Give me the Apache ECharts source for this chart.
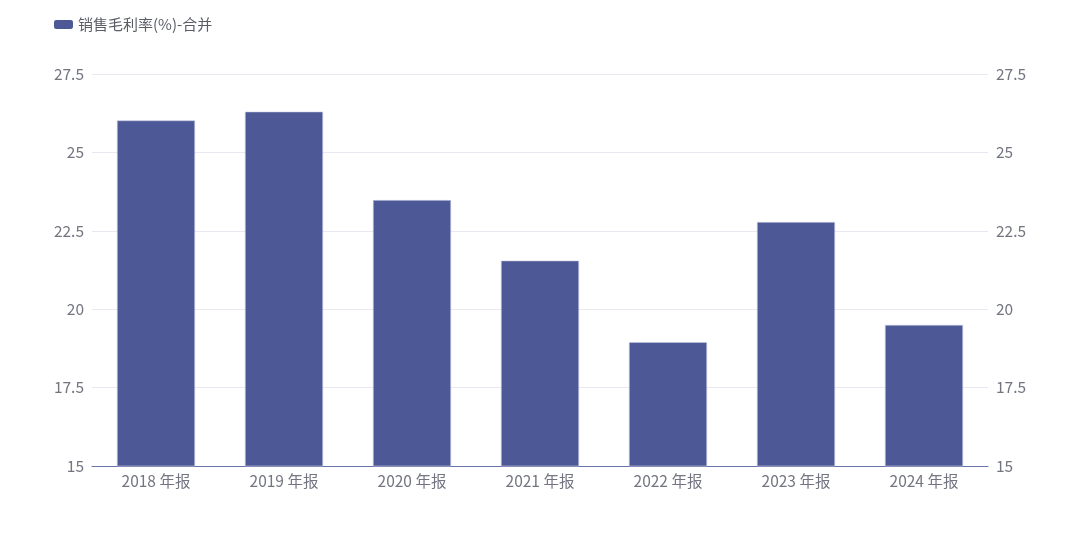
<!DOCTYPE html>
<html><head><meta charset="utf-8">
<script src="https://cdn.jsdelivr.net/npm/echarts@6/dist/echarts.min.js"></script>
<style>html,body{margin:0;padding:0;background:#fff}#c{width:1080px;height:534px}</style>
</head><body><div id="c"></div>
<script>
const categories = ['2018 年报','2019 年报','2020 年报','2021 年报','2022 年报','2023 年报','2024 年报'];
const seriesName = '销售毛利率(%)-合并';
const values = [26.02, 26.30, 23.48, 21.55, 18.95, 22.78, 19.50];
const yTicks = {min: 15, max: 27.5, interval: 2.5};

const chart = echarts.init(document.getElementById('c'));
const font = "'Noto Sans CJK SC', 'Noto Sans', sans-serif";
const yAxisBase = {
  type: 'value', min: yTicks.min, max: yTicks.max, interval: yTicks.interval,
  axisLine: {show: false}, axisTick: {show: false},
  axisLabel: {color: '#737580', fontSize: 15.5, fontFamily: font, margin: 8},
};
chart.setOption({
  animation: false,
  legend: {
    left: 49, top: 12, itemWidth: 19, itemHeight: 9, itemGap: 10,
    itemStyle: {borderWidth: 0},
    textStyle: {color: '#5b5d66', fontSize: 15, fontFamily: font},
    data: [seriesName]
  },
  grid: {left: 92, right: 92, top: 74, bottom: 68},
  xAxis: {
    type: 'category', data: categories,
    axisLine: {lineStyle: {color: '#6a74a8', width: 1}},
    axisTick: {show: false},
    axisLabel: {color: '#737580', fontSize: 15.5, fontFamily: font, margin: 7}
  },
  yAxis: [
    Object.assign({}, yAxisBase, {position: 'left', splitLine: {lineStyle: {color: '#e6e8f2'}}}),
    Object.assign({}, yAxisBase, {position: 'right', splitLine: {show: false}})
  ],
  series: [{
    name: seriesName, type: 'bar', data: values, barWidth: '61%',
    itemStyle: {color: '#4d5896', borderColor: '#c9cde3', borderWidth: 0.6}
  }]
});
</script></body></html>
